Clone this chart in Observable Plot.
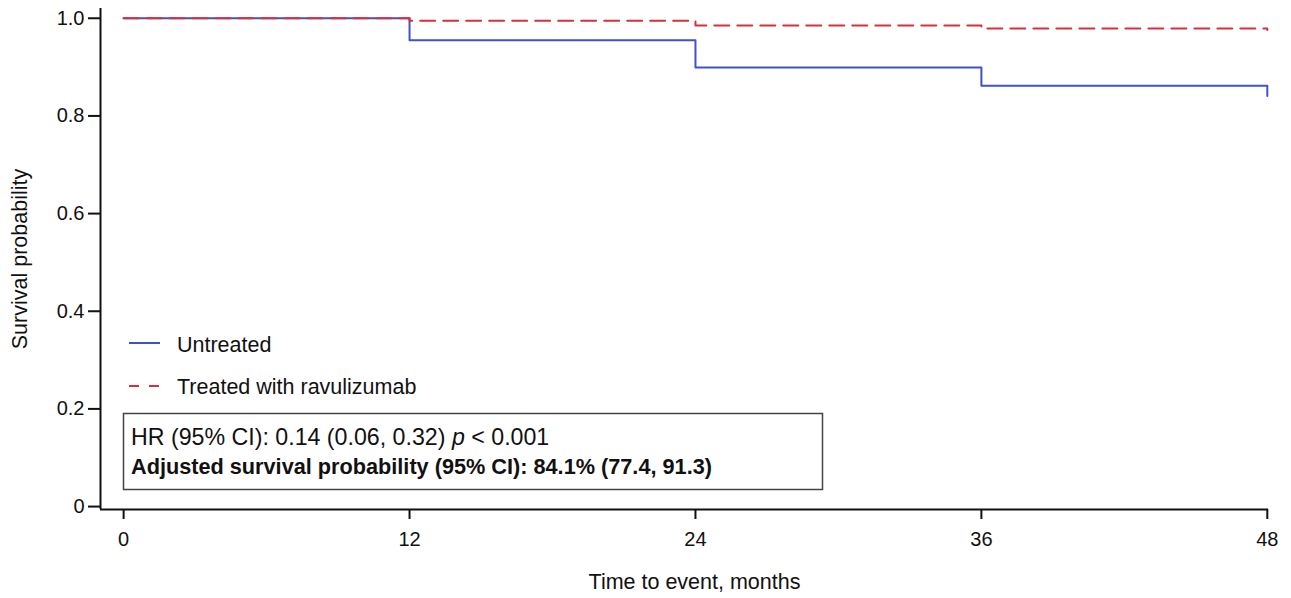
<!DOCTYPE html>
<html>
<head>
<meta charset="utf-8">
<script src="https://cdn.jsdelivr.net/npm/d3@7"></script>
<script src="https://cdn.jsdelivr.net/npm/@observablehq/plot@0.6"></script>
<style>
  html, body { margin: 0; padding: 0; background: #fff; }
  #chart { width: 1291px; height: 598px; }
  svg { font-family: "Liberation Sans", Arial, sans-serif; }
</style>
</head>
<body>
<div id="chart"></div>
<script>
// ---- data ----
const months = [0, 12, 24, 36, 48];
const untreatedSurv = [1.0, 0.955, 0.899, 0.862, 0.841];
const treatedSurv = [1.0, 0.995, 0.985, 0.979, 0.976];
const xTicks = [0, 12, 24, 36, 48];
const yTicks = [0, 0.2, 0.4, 0.6, 0.8, 1.0];
const seriesNames = ["Untreated", "Treated with ravulizumab"];
const statLine1 = ["HR (95% CI): 0.14 (0.06, 0.32) ", "p", " < 0.001"];
const statLine2 = "Adjusted survival probability (95% CI): 84.1% (77.4, 91.3)";
const xLabel = "Time to event, months";
const yLabel = "Survival probability";

const blue = "#4052c8";
const red = "#d8303a";

const untreated = months.map((m, i) => ({t: m, s: untreatedSurv[i]}));
const treated = months.map((m, i) => ({t: m, s: treatedSurv[i]}));

const xDom = [-0.97, 48.05];
const yDom = [-0.006, 1.02];

const chart = Plot.plot({
  width: 1291,
  height: 598,
  marginLeft: 100,
  marginRight: 23,
  marginTop: 8,
  marginBottom: 89,
  style: {fontFamily: "Liberation Sans, Arial, sans-serif", fontSize: "20px", color: "#111"},
  x: {domain: xDom},
  y: {domain: yDom},
  marks: [
    Plot.line(untreated, {x: "t", y: "s", curve: "step-after", stroke: blue, strokeWidth: 2}),
    Plot.line(treated, {x: "t", y: "s", curve: "step-after", stroke: red, strokeWidth: 2, strokeDasharray: "15,8"}),
    Plot.ruleX([xDom[0]], {y1: yDom[0], y2: yDom[1], stroke: "#111", strokeWidth: 2}),
    Plot.ruleY([yDom[0]], {x1: xDom[0], x2: xDom[1], stroke: "#111", strokeWidth: 2}),
    Plot.axisX({ticks: xTicks, tickSize: 10, tickPadding: 12, label: null, strokeWidth: 2, fontSize: 20, tickFormat: d => String(d)}),
    Plot.axisY({ticks: yTicks, tickSize: 12, tickPadding: 4, label: null, strokeWidth: 2, fontSize: 20, tickFormat: d => d === 0 ? "0" : d.toFixed(1)}),
    Plot.text([xLabel], {frameAnchor: "bottom", dx: 10, dy: 79, fontSize: 21.5, fill: "#111", textAnchor: "middle"}),
    Plot.text([yLabel], {frameAnchor: "left", dx: -80, rotate: -90, fontSize: 21.5, fill: "#111", textAnchor: "middle"})
  ]
});
document.getElementById("chart").appendChild(chart);

// ---- legend and stats box (annotations) ----
const svg = d3.select(chart);
const g = svg.append("g").attr("font-family", "Liberation Sans, Arial, sans-serif").attr("fill", "#111").attr("text-anchor", "start");
g.append("line").attr("x1", 129).attr("x2", 160).attr("y1", 343).attr("y2", 343).attr("stroke", blue).attr("stroke-width", 2);
g.append("line").attr("x1", 129).attr("x2", 160).attr("y1", 386).attr("y2", 386).attr("stroke", red).attr("stroke-width", 2).attr("stroke-dasharray", "10,10");
g.append("text").attr("x", 177).attr("y", 344).attr("dy", "0.35em").attr("font-size", 21.5).text(seriesNames[0]);
g.append("text").attr("x", 177).attr("y", 386).attr("dy", "0.35em").attr("font-size", 21.5).text(seriesNames[1]);

g.append("rect").attr("x", 123.5).attr("y", 413.5).attr("width", 699).attr("height", 76)
  .attr("fill", "none").attr("stroke", "#444").attr("stroke-width", 1.5);
const t1 = g.append("text").attr("x", 131).attr("y", 437).attr("dy", "0.35em").attr("font-size", 23.2);
t1.append("tspan").text(statLine1[0]);
t1.append("tspan").attr("font-style", "italic").text(statLine1[1]);
t1.append("tspan").text(statLine1[2]);
g.append("text").attr("x", 131).attr("y", 466).attr("dy", "0.35em").attr("font-size", 21.7).attr("font-weight", "bold").text(statLine2);
</script>
</body>
</html>
